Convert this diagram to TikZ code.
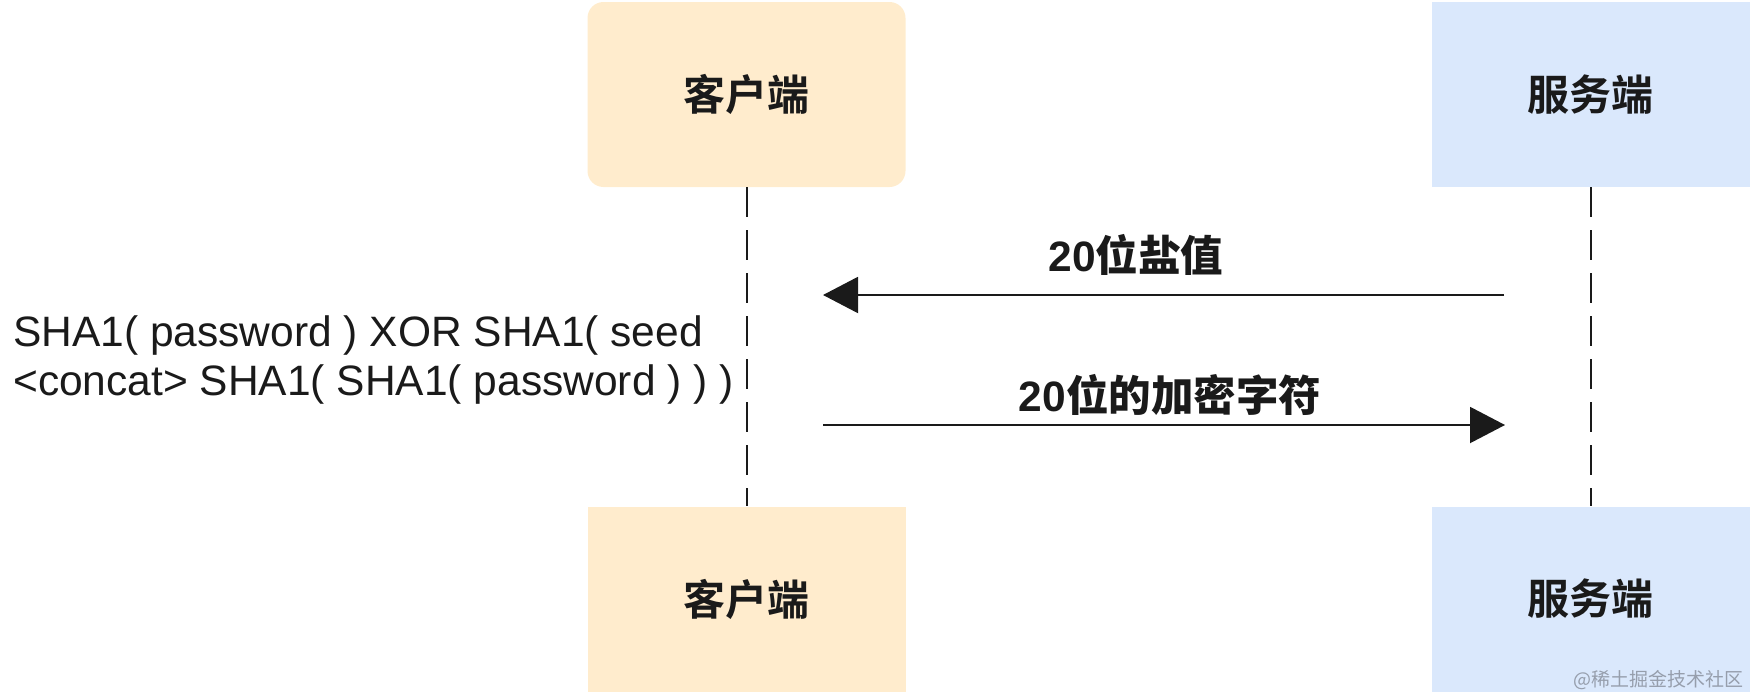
\documentclass[tikz,border=0pt]{standalone}
\usepackage{fontspec}
\setmainfont{Liberation Sans}
\newfontfamily\cjkb{Noto Sans CJK SC Bold}
\newfontfamily\cjkr{Noto Sans CJK SC}
\usetikzlibrary{arrows.meta}
\definecolor{clientfill}{RGB}{255,236,205}
\definecolor{serverfill}{RGB}{218,232,252}
\definecolor{ink}{RGB}{26,26,26}
\definecolor{wmark}{RGB}{150,158,172}
\begin{document}
\begin{tikzpicture}[x=1pt,y=-1pt,
  actor/.style={rectangle,draw=none,inner sep=0pt,minimum width=318pt,minimum height=185pt,font=\cjkb\fontsize{42}{50}\selectfont,text=ink},
  client/.style={actor,fill=clientfill},
  server/.style={actor,fill=serverfill},
  lifeline/.style={draw=ink,line width=2pt,dash pattern=on 30pt off 13pt},
  msg/.style={draw=ink,line width=2pt,-{Triangle[length=35pt,width=36pt]}},
  msglabel/.style={font=\bfseries\fontsize{42.5}{50}\selectfont,text=ink,inner sep=0pt},
]
\useasboundingbox (0,0) rectangle (1752,696);
\node[client,rounded corners=16pt] (ctop) at (746.5,94.5) {客户端};
\node[server] (stop) at (1590.5,94.5) {服务端};
\node[client] (cbot) at (746.5,599) {客户端};
\node[server] (sbot) at (1590.5,599) {服务端};
\draw[lifeline] (ctop.south) -- (cbot.north);
\draw[lifeline] (stop.south) -- (sbot.north);
\coordinate (m1s) at (1504,295);
\coordinate (m1e) at (823,295);
\coordinate (m2s) at (823,425);
\coordinate (m2e) at (1505,425);
\draw[msg] (m1s) -- (m1e);
\draw[msg] (m2s) -- (m2e);
\node[msglabel] (l1) at (1136,255) {20{\cjkb 位盐值}};
\node[msglabel] (l2) at (1170,395) {20{\cjkb 位的加密字符}};
\node[anchor=west,align=left,inner sep=0pt,text=ink,font=\fontsize{42.5}{48.5}\selectfont] (calc) at (13,360)
  {SHA1( password ) XOR SHA1( seed\\<concat> SHA1( SHA1( password ) ) )};
\node[anchor=east,text=wmark,inner sep=0pt,font=\cjkr\fontsize{19}{23}\selectfont] (wm) at (1744,680) {@稀土掘金技术社区};
\end{tikzpicture}
\end{document}
